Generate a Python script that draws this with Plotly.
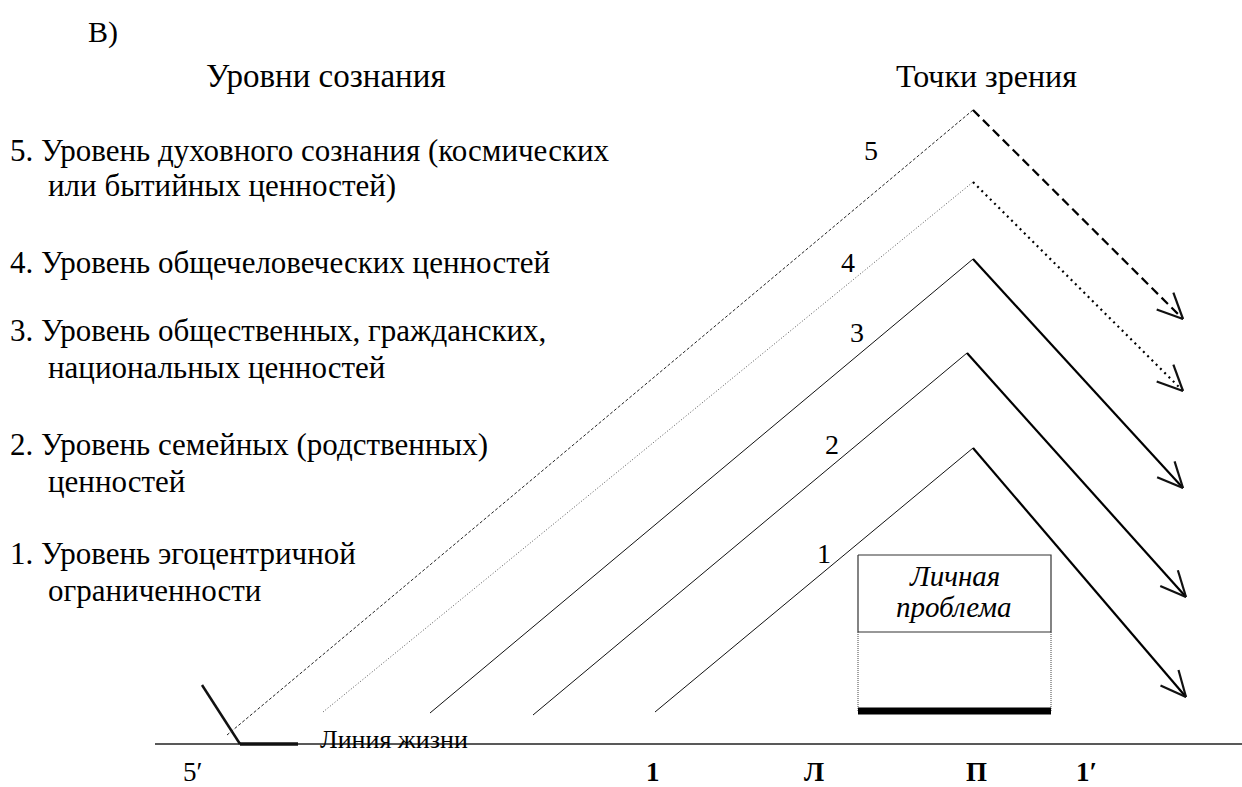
import numpy as np
import plotly.graph_objects as go

W, H = 1242, 787
FONT = "'Liberation Serif', 'Times New Roman', Times, 'DejaVu Serif', serif"

# ---- diagram data (pixel-like diagram units) ----
levels = ["5", "4", "3", "2", "1"]
start_x = [227, 323, 430, 533, 655]      # lower-left start of each view line
start_y = [735, 712, 713, 715, 712]
apex_x = [973, 973, 973, 967, 973]
apex_y = [110, 182, 259, 353, 448]
tip_x = [1183, 1183, 1183, 1186, 1186]
tip_y = [319, 391, 488, 597, 697]
left_dash = ["3px,2px", "1px,2px", "solid", "solid", "solid"]
right_dash = ["9px,5px", "2px,4px", "solid", "solid", "solid"]
left_color = ["#222", "#555", "#111", "#111", "#111"]

num_x = [871, 848, 857, 832, 824]
num_y = [150, 262, 332, 444, 553]

level_lines = [
    "5. Уровень духовного сознания (космических",
    "или бытийных ценностей)",
    "4. Уровень общечеловеческих ценностей",
    "3. Уровень общественных, гражданских,",
    "национальных ценностей",
    "2. Уровень семейных (родственных)",
    "ценностей",
    "1. Уровень эгоцентричной",
    "ограниченности",
]
level_x = [8, 46, 8, 8, 46, 8, 46, 8, 46]
level_y = [150, 185, 262, 330, 367, 444, 481, 553, 590]

axis_y = 744
axis_x = [155, 1242]
axis_labels = ["5′", "1", "Л", "П", "1′"]
axis_label_x = [192, 653, 814, 976, 1086]
axis_label_bold = [False, True, True, True, True]

hook_x = [202, 240, 298]
hook_y = [685, 744, 744]

box_x = [858, 1051]
box_y = [555, 632]
base_y = 711

fig = go.Figure()

def line(xs, ys, width=1.0, dash="solid", color="#111"):
    fig.add_trace(go.Scatter(x=xs, y=ys, mode="lines",
                             line=dict(color=color, width=width, dash=dash),
                             hoverinfo="skip", showlegend=False))

# base line (life line)
line(axis_x, [axis_y, axis_y], 1.6, color="#222")
# hook
line(hook_x[:2], hook_y[:2], 2.5)
line(hook_x[1:], hook_y[1:], 3.5)

# box
line([box_x[0], box_x[1], box_x[1], box_x[0], box_x[0]],
     [box_y[0], box_y[0], box_y[1], box_y[1], box_y[0]], 1.2, color="#333")
line([box_x[0], box_x[0]], [box_y[1], base_y], 1, "1px,1px", "#444")
line([box_x[1], box_x[1]], [box_y[1], base_y], 1, "1px,1px", "#444")
line(box_x, [base_y, base_y], 7, color="#000")

# view lines + arrows
for i in range(5):
    line([start_x[i], apex_x[i]], [start_y[i], apex_y[i]], 1.0, left_dash[i], left_color[i])
    line([apex_x[i], tip_x[i]], [apex_y[i], tip_y[i]], 2.2, right_dash[i], "#000")
    d = np.array([tip_x[i] - apex_x[i], tip_y[i] - apex_y[i]], dtype=float)
    d /= np.linalg.norm(d)
    L, ang = 28, np.radians(25)
    for s in (1, -1):
        c, sn = np.cos(s * ang), np.sin(s * ang)
        r = np.array([c * d[0] - sn * d[1], sn * d[0] + c * d[1]])
        line([tip_x[i] - L * r[0], tip_x[i]], [tip_y[i] - L * r[1], tip_y[i]], 2.2)

ann = []
def text(x, y, t, size, anchor="left", bold=False, italic=False):
    s = t
    if bold:
        s = "<b>" + s + "</b>"
    if italic:
        s = "<i>" + s + "</i>"
    ann.append(dict(x=x, y=y, xref="x", yref="y", text=s, showarrow=False,
                    xanchor=anchor, yanchor="middle",
                    font=dict(family=FONT, size=size, color="#000")))

text(86, 32, "В)", 30)
text(326, 76, "Уровни сознания", 33, "center")
text(986, 76, "Точки зрения", 32, "center")
for t, x, y in zip(level_lines, level_x, level_y):
    text(x, y, t, 31)
for t, x, y in zip(levels, num_x, num_y):
    text(x, y, t, 28, "center")
for t, x, b in zip(axis_labels, axis_label_x, axis_label_bold):
    text(x, 772, t, 27, "center", bold=b)
text(318, 739, "Линия жизни", 26)
text(954, 576, "Личная", 29, "center", italic=True)
text(954, 607, "проблема", 29, "center", italic=True)

fig.update_layout(
    width=W, height=H, margin=dict(l=0, r=0, t=0, b=0),
    paper_bgcolor="white", plot_bgcolor="white",
    xaxis=dict(range=[0, W], visible=False, fixedrange=True),
    yaxis=dict(range=[H, 0], visible=False, fixedrange=True),
    annotations=ann,
)
fig.write_html("out.html", config={"displayModeBar": False},
               post_script="document.body.style.margin='0';document.body.style.overflow='hidden';")
